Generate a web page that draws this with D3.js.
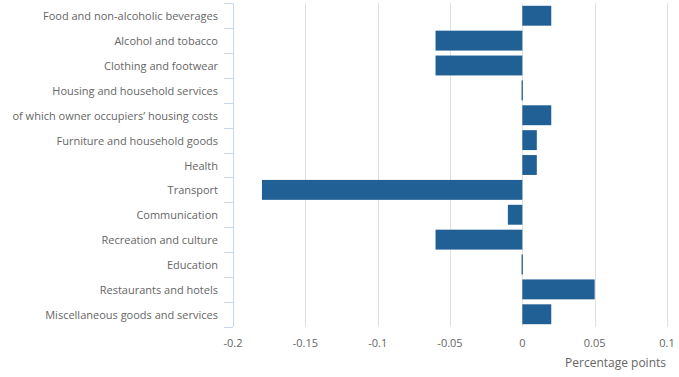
<!DOCTYPE html>
<html><head><meta charset="utf-8">
<script src="https://cdn.jsdelivr.net/npm/d3@7"></script>
<style>body{margin:0;background:#fff;}svg{display:block;font-family:"Open Sans",sans-serif;}</style>
</head><body>
<svg id="c" width="679" height="377"></svg>
<script>
const categories = ["Food and non-alcoholic beverages","Alcohol and tobacco","Clothing and footwear","Housing and household services","of which owner occupiers\u2019 housing costs","Furniture and household goods","Health","Transport","Communication","Recreation and culture","Education","Restaurants and hotels","Miscellaneous goods and services"];
const values = [0.02,-0.06,-0.06,0,0.02,0.01,0.01,-0.18,-0.01,-0.06,0,0.05,0.02];
const xTicks = [-0.2,-0.15,-0.1,-0.05,0,0.05,0.1];
const xTickLabels = ["-0.2","-0.15","-0.1","-0.05","0","0.05","0.1"];
const axisTitle = "Percentage points";

const svg = d3.select("#c");
const L = 233, R = 667, T = 3.3, B = 326.7;
const x = d3.scaleLinear().domain([-0.2,0.1]).range([L,R]);
const y = d3.scaleBand().domain(categories).range([T,B]).paddingInner(0.2).paddingOuter(0.1);

// gridlines
svg.append("g").selectAll("line").data(xTicks.slice(1)).join("line")
  .attr("x1",d=>Math.round(x(d))+0.5).attr("x2",d=>Math.round(x(d))+0.5)
  .attr("y1",T).attr("y2",B).attr("stroke","#e0e0e0").attr("stroke-width",1);

// bars
svg.append("g").selectAll("rect").data(values).join("rect")
  .attr("x",(d)=>d===0 ? x(0)-0.8 : x(Math.min(0,d)))
  .attr("y",(d,i)=>y(categories[i]))
  .attr("width",d=>Math.max(1.3,Math.abs(x(d)-x(0))))
  .attr("height",y.bandwidth())
  .attr("fill","#206095");

// y axis
const step = (B-T)/categories.length;
const gy = svg.append("g");
gy.append("line").attr("x1",L+0.5).attr("x2",L+0.5).attr("y1",T).attr("y2",B).attr("stroke","#ccd6eb");
gy.selectAll("line.t").data(d3.range(categories.length+1)).join("line").attr("class","t")
  .attr("x1",L-9).attr("x2",L).attr("y1",i=>Math.round(T+i*step)+0.5).attr("y2",i=>Math.round(T+i*step)+0.5)
  .attr("stroke","#ccd6eb");
gy.selectAll("text").data(categories).join("text")
  .attr("x",218).attr("y",d=>y(d)+y.bandwidth()/2).attr("dy","0.42em")
  .attr("text-anchor","end").attr("font-size",11).attr("fill","#666").text(d=>d);

// x labels
svg.append("g").selectAll("text").data(xTicks).join("text")
  .attr("x",d=>x(d)).attr("y",347).attr("text-anchor","middle")
  .attr("font-size",11).attr("fill","#666").text((d,i)=>xTickLabels[i]);

svg.append("text").attr("x",R-1).attr("y",367).attr("text-anchor","end")
  .attr("font-size",12).attr("fill","#666").text(axisTitle);
</script>
</body></html>
